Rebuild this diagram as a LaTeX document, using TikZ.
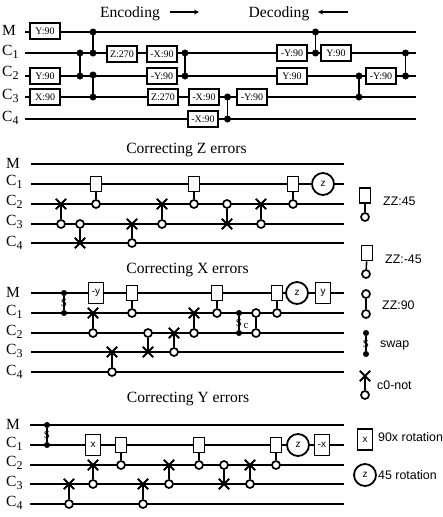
\documentclass[tikz,border=0pt]{standalone}
\usepackage{fontspec}
\setmainfont{Liberation Serif}
\setsansfont{Liberation Sans}
\usetikzlibrary{shapes.misc}

\begin{document}
\begin{tikzpicture}[x=1pt,y=-1pt]
    \tikzset{wire/.style={draw,line width=1.5pt}}
    \tikzset{link/.style={draw,line width=1.6pt}}
    \tikzset{swapline/.style={draw,line width=1.1pt}}
    \tikzset{swaplabel/.style={inner sep=0pt,font=\fontsize{11}{11}\selectfont}}
    \tikzset{pulse/.style={draw,fill=white,line width=1.8pt,minimum width=30pt,minimum height=16pt,inner sep=0pt,font=\fontsize{10}{10}\selectfont}}
    \tikzset{zzbox/.style={draw,fill=white,line width=1.7pt,minimum width=11pt,minimum height=15pt,inner sep=0pt}}
    \tikzset{rotbox/.style={draw,fill=white,line width=1.8pt,minimum width=15pt,minimum height=21pt,inner sep=0pt,font=\sffamily\fontsize{10}{10}\selectfont}}
    \tikzset{rotcirc/.style={draw,circle,fill=white,line width=1.8pt,minimum size=22pt,inner sep=0pt,font=\sffamily\fontsize{10}{10}\selectfont}}
    \tikzset{bigdot/.style={draw,circle,fill=black,minimum size=6.5pt,inner sep=0pt}}
    \tikzset{swapdot/.style={draw,circle,fill=black,minimum size=5.5pt,inner sep=0pt}}
    \tikzset{opendot/.style={draw,circle,fill=white,line width=1.7pt,minimum size=8pt,inner sep=0pt}}
    \tikzset{crossmark/.style={draw,cross out,line width=1.9pt,minimum size=8.5pt,inner sep=0pt}}
    \tikzset{qubit/.style={anchor=west,inner sep=0pt,font=\fontsize{15.5}{16}\selectfont}}
    \tikzset{heading/.style={inner sep=0pt,font=\fontsize{15.6}{16}\selectfont}}
    \tikzset{legend/.style={anchor=west,inner sep=0pt,font=\sffamily\fontsize{12.4}{13}\selectfont}}
    \useasboundingbox (0,0) rectangle (443,517);

    % encoding and decoding
    \node[heading] (enc) at (130,13.5) {Encoding};
    \node[heading] (dec) at (279,13.5) {Decoding};
    \coordinate (enca) at (170,12);
    \coordinate (encb) at (199,12);
    \coordinate (deca) at (348,12);
    \coordinate (decb) at (318,12);
    \draw[->,>=stealth,line width=1.2pt] (enca) -- (encb);
    \draw[->,>=stealth,line width=1.2pt] (deca) -- (decb);
    \node[qubit] (lm) at (2,30) {M};
    \node[qubit] (l1) at (2,52) {C\lower3pt\hbox{\fontsize{12}{12}\selectfont 1}};
    \node[qubit] (l2) at (2,73) {C\lower3pt\hbox{\fontsize{12}{12}\selectfont 2}};
    \node[qubit] (l3) at (2,96) {C\lower3pt\hbox{\fontsize{12}{12}\selectfont 3}};
    \node[qubit] (l4) at (2,118) {C\lower3pt\hbox{\fontsize{12}{12}\selectfont 4}};
    \coordinate (am) at (25,32);  \coordinate (bm) at (416,32);
    \coordinate (a1) at (25,53);  \coordinate (b1) at (416,53);
    \coordinate (a2) at (25,76);  \coordinate (b2) at (416,76);
    \coordinate (a3) at (25,97);  \coordinate (b3) at (416,97);
    \coordinate (a4) at (25,119); \coordinate (b4) at (416,119);
    \path[wire] (am) -- (bm) (a1) -- (b1) (a2) -- (b2) (a3) -- (b3) (a4) -- (b4);
    \node[pulse] (p1) at (45,31) {Y:90};
    \node[pulse] (p2) at (45,76) {Y:90};
    \node[pulse] (p3) at (45,97) {X:90};
    \node[pulse] (p4) at (122,54) {Z:270};
    \node[pulse] (p5) at (162,54) {-X:90};
    \node[pulse] (p6) at (162,76) {-Y:90};
    \node[pulse] (p7) at (163,97) {Z:270};
    \node[pulse] (p8) at (204,97) {-X:90};
    \node[pulse] (p9) at (203,119) {-X:90};
    \node[pulse] (p10) at (252,97) {-Y:90};
    \node[pulse] (p11) at (292,53) {-Y:90};
    \node[pulse] (p12) at (292,76) {Y:90};
    \node[pulse] (p13) at (336,53) {Y:90};
    \node[pulse] (p14) at (381,76) {-Y:90};
    \node[bigdot] (d1) at (93,32) {};
    \node[bigdot] (d2) at (93,53) {};
    \node[bigdot] (d3) at (80,53) {};
    \node[bigdot] (d4) at (80,76) {};
    \node[bigdot] (d5) at (93,75) {};
    \node[bigdot] (d6) at (93,97) {};
    \node[bigdot] (d7) at (185,53) {};
    \node[bigdot] (d8) at (185,76) {};
    \node[bigdot] (d9) at (227.5,97) {};
    \node[bigdot] (d10) at (227.5,119) {};
    \node[bigdot] (d11) at (315.5,32) {};
    \node[bigdot] (d12) at (315.5,53) {};
    \node[bigdot] (d13) at (359,76) {};
    \node[bigdot] (d14) at (359,97) {};
    \node[bigdot] (d15) at (405.5,53) {};
    \node[bigdot] (d16) at (405.5,76) {};
    \path[link] (d1) -- (d2) (d3) -- (d4) (d5) -- (d6) (d7) -- (d8) (d9) -- (d10)
    (d11) -- (d12) (d13) -- (d14) (d15) -- (d16);

    % correcting Z errors
    \node[heading] (zt) at (186.5,150) {Correcting Z errors};
    \node[qubit] (zlm) at (6,163) {M};
    \node[qubit] (zl1) at (6,182) {C\lower3pt\hbox{\fontsize{12}{12}\selectfont 1}};
    \node[qubit] (zl2) at (6,202) {C\lower3pt\hbox{\fontsize{12}{12}\selectfont 2}};
    \node[qubit] (zl3) at (6,222) {C\lower3pt\hbox{\fontsize{12}{12}\selectfont 3}};
    \node[qubit] (zl4) at (6,243) {C\lower3pt\hbox{\fontsize{12}{12}\selectfont 4}};
    \coordinate (zam) at (31,164); \coordinate (zbm) at (344,164);
    \coordinate (za1) at (31,184); \coordinate (zb1) at (344,184);
    \coordinate (za2) at (31,204); \coordinate (zb2) at (344,204);
    \coordinate (za3) at (31,224); \coordinate (zb3) at (344,224);
    \coordinate (za4) at (31,243); \coordinate (zb4) at (344,243);
    \path[wire] (zam) -- (zbm) (za1) -- (zb1) (za2) -- (zb2) (za3) -- (zb3) (za4) -- (zb4);
    \node[crossmark] (zx1) at (61,204) {};
    \node[opendot] (zo1) at (61,224) {};
    \node[opendot] (zo2) at (80,224) {};
    \node[crossmark] (zx2) at (80,243) {};
    \node[zzbox] (zg1) at (96,184) {};
    \node[opendot] (zo3) at (96,204) {};
    \node[crossmark] (zx3) at (132,224) {};
    \node[opendot] (zo4) at (132,243) {};
    \node[crossmark] (zx4) at (162,204) {};
    \node[opendot] (zo5) at (162,224) {};
    \node[zzbox] (zg2) at (194,184) {};
    \node[opendot] (zo6) at (194,204) {};
    \node[opendot] (zo7) at (227,204) {};
    \node[crossmark] (zx5) at (227,224) {};
    \node[crossmark] (zx6) at (261,204) {};
    \node[opendot] (zo8) at (261,224) {};
    \node[zzbox] (zg3) at (293,184) {};
    \node[opendot] (zo9) at (293,204) {};
    \node[rotcirc] (zr1) at (323,184) {z};
    \path[link] (zx1.center) -- (zo1) (zo2) -- (zx2.center) (zg1) -- (zo3) (zx3.center) -- (zo4)
    (zx4.center) -- (zo5) (zg2) -- (zo6) (zo7) -- (zx5.center) (zx6.center) -- (zo8) (zg3) -- (zo9);

    % correcting X errors
    \node[heading] (xt) at (187.5,270) {Correcting X errors};
    \node[qubit] (xlm) at (6,292) {M};
    \node[qubit] (xl1) at (6,312) {C\lower3pt\hbox{\fontsize{12}{12}\selectfont 1}};
    \node[qubit] (xl2) at (6,332) {C\lower3pt\hbox{\fontsize{12}{12}\selectfont 2}};
    \node[qubit] (xl3) at (6,351) {C\lower3pt\hbox{\fontsize{12}{12}\selectfont 3}};
    \node[qubit] (xl4) at (6,372) {C\lower3pt\hbox{\fontsize{12}{12}\selectfont 4}};
    \coordinate (xam) at (31,293); \coordinate (xbm) at (344,293);
    \coordinate (xa1) at (31,313); \coordinate (xb1) at (344,313);
    \coordinate (xa2) at (31,333); \coordinate (xb2) at (344,333);
    \coordinate (xa3) at (31,352); \coordinate (xb3) at (344,352);
    \coordinate (xa4) at (31,372); \coordinate (xb4) at (344,372);
    \path[wire] (xam) -- (xbm) (xa1) -- (xb1) (xa2) -- (xb2) (xa3) -- (xb3) (xa4) -- (xb4);
    \node[swapdot] (xs1) at (64,293) {};
    \node[swapdot] (xs2) at (64,313) {};
    \node[rotbox] (xr1) at (96,293) {-y};
    \node[crossmark] (xx1) at (93,313) {};
    \node[opendot] (xo1) at (93,333) {};
    \node[crossmark] (xx2) at (112,352) {};
    \node[opendot] (xo2) at (112,372) {};
    \node[zzbox] (xg1) at (132,293) {};
    \node[opendot] (xo3) at (132,313) {};
    \node[opendot] (xo4) at (148,333) {};
    \node[crossmark] (xx3) at (148,352) {};
    \node[crossmark] (xx4) at (174,333) {};
    \node[opendot] (xo5) at (174,352) {};
    \node[crossmark] (xx5) at (194,313) {};
    \node[opendot] (xo6) at (194,333) {};
    \node[zzbox] (xg2) at (217,293) {};
    \node[opendot] (xo7) at (217,313) {};
    \node[swapdot] (xs3) at (239,313) {};
    \node[swapdot] (xs4) at (239,333) {};
    \node[swaplabel] (xc) at (246,326) {c};
    \node[opendot] (xo8) at (256,313) {};
    \node[opendot] (xo9) at (256,333) {};
    \node[zzbox] (xg3) at (277,293) {};
    \node[opendot] (xo10) at (277,313) {};
    \node[rotcirc] (xr2) at (297,293) {z};
    \node[rotbox] (xr3) at (323,293) {y};
    \path[link] (xx1.center) -- (xo1) (xx2.center) -- (xo2) (xg1) -- (xo3) (xo4) -- (xx3.center)
    (xx4.center) -- (xo5) (xx5.center) -- (xo6) (xg2) -- (xo7) (xo8) -- (xo9) (xg3) -- (xo10);
    \path[swapline] (xs1) -- node[swaplabel] {S} (xs2);
    \path[swapline] (xs3) -- node[swaplabel] {S} (xs4);

    % correcting Y errors
    \node[heading] (yt) at (188,399) {Correcting Y errors};
    \node[qubit] (ylm) at (6,424) {M};
    \node[qubit] (yl1) at (6,444) {C\lower3pt\hbox{\fontsize{12}{12}\selectfont 1}};
    \node[qubit] (yl2) at (6,463) {C\lower3pt\hbox{\fontsize{12}{12}\selectfont 2}};
    \node[qubit] (yl3) at (6,483) {C\lower3pt\hbox{\fontsize{12}{12}\selectfont 3}};
    \node[qubit] (yl4) at (6,503) {C\lower3pt\hbox{\fontsize{12}{12}\selectfont 4}};
    \coordinate (yam) at (30,425); \coordinate (ybm) at (344,425);
    \coordinate (ya1) at (30,445); \coordinate (yb1) at (344,445);
    \coordinate (ya2) at (30,465); \coordinate (yb2) at (344,465);
    \coordinate (ya3) at (30,484); \coordinate (yb3) at (344,484);
    \coordinate (ya4) at (30,504); \coordinate (yb4) at (344,504);
    \path[wire] (yam) -- (ybm) (ya1) -- (yb1) (ya2) -- (yb2) (ya3) -- (yb3) (ya4) -- (yb4);
    \node[swapdot] (ys1) at (47,425) {};
    \node[swapdot] (ys2) at (47,445) {};
    \node[crossmark] (yx1) at (69,484) {};
    \node[opendot] (yo1) at (69,504) {};
    \node[rotbox] (yr1) at (93,445) {x};
    \node[crossmark] (yx2) at (93,465) {};
    \node[opendot] (yo2) at (93,484) {};
    \node[zzbox] (yg1) at (121,445) {};
    \node[opendot] (yo3) at (121,465) {};
    \node[crossmark] (yx3) at (143,484) {};
    \node[opendot] (yo4) at (143,504) {};
    \node[crossmark] (yx4) at (169,465) {};
    \node[opendot] (yo5) at (169,484) {};
    \node[zzbox] (yg2) at (199,445) {};
    \node[opendot] (yo6) at (199,465) {};
    \node[opendot] (yo7) at (224,465) {};
    \node[crossmark] (yx5) at (224,484) {};
    \node[crossmark] (yx6) at (250,465) {};
    \node[opendot] (yo8) at (250,484) {};
    \node[zzbox] (yg3) at (276,445) {};
    \node[opendot] (yo9) at (276,465) {};
    \node[rotcirc] (yr2) at (298,445) {z};
    \node[rotbox] (yr3) at (322,445) {-x};
    \path[link] (yx1.center) -- (yo1) (yx2.center) -- (yo2) (yg1) -- (yo3) (yx3.center) -- (yo4)
    (yx4.center) -- (yo5) (yg2) -- (yo6) (yo7) -- (yx5.center) (yx6.center) -- (yo8) (yg3) -- (yo9);
    \path[swapline] (ys1) -- node[swaplabel] {S} (ys2);

    % legend
    \node[zzbox] (k1) at (365,195.5) {};
    \node[opendot] (k2) at (365,217) {};
    \node[legend] (kt1) at (383,201) {ZZ:45};
    \node[zzbox] (k3) at (367,253) {};
    \node[opendot] (k4) at (366,274) {};
    \node[legend] (kt2) at (385,259) {ZZ:-45};
    \node[opendot] (k5) at (366,294) {};
    \node[opendot] (k6) at (366,314) {};
    \node[legend] (kt3) at (382,305) {ZZ:90};
    \node[swapdot] (k7) at (366,333) {};
    \node[swapdot] (k8) at (366,354) {};
    \node[legend] (kt4) at (380,345) {swap};
    \node[crossmark] (k9) at (365,376) {};
    \node[opendot] (k10) at (365,395) {};
    \node[legend] (kt5) at (377,385) {c0-not};
    \node[rotbox] (k11) at (365,439.5) {x};
    \node[legend] (kt6) at (378,437) {90x rotation};
    \node[rotcirc] (k12) at (365,475) {z};
    \node[legend] (kt7) at (378,475) {45 rotation};
    \path[link] (k1) -- (k2) (k3) -- (k4) (k5) -- (k6) (k9.center) -- (k10);
    \path[swapline] (k7) -- node[swaplabel] {S} (k8);
  \end{tikzpicture}
\end{document}
